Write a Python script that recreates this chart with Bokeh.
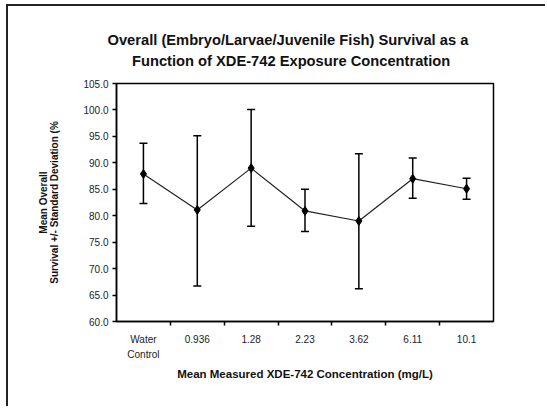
from bokeh.plotting import figure
from bokeh.models import ColumnDataSource, Whisker, FixedTicker, Title, NumeralTickFormatter
from bokeh.embed import file_html
from bokeh.resources import INLINE

categories = ["Water\nControl", "0.936", "1.28", "2.23", "3.62", "6.11", "10.1"]
mean_survival = [87.9, 81.1, 89.0, 80.9, 79.0, 87.0, 85.1]
upper_sd = [93.7, 95.1, 100.1, 85.0, 91.7, 90.9, 87.1]
lower_sd = [82.3, 66.7, 78.0, 77.0, 66.2, 83.3, 83.1]
y_ticks = [60, 65, 70, 75, 80, 85, 90, 95, 100, 105]

title_lines = ["Overall (Embryo/Larvae/Juvenile Fish) Survival as a",
               "Function of XDE-742 Exposure Concentration"]
y_label = "Mean Overall\nSurvival +/- Standard Deviation (%"
x_label = "Mean Measured XDE-742 Concentration (mg/L)"

xs = [i + 1 for i in range(len(categories))]
src = ColumnDataSource(dict(x=xs, y=mean_survival, upper=upper_sd, lower=lower_sd))

FONT = "Liberation Sans"

p = figure(width=539, height=402, output_backend="svg", toolbar_location=None,
           x_range=(0.5, len(categories) + 0.5), y_range=(60, 105),
           min_border_left=108, min_border_right=54, min_border_top=77, min_border_bottom=87,
           background_fill_color="white", border_fill_color="white")
p.margin = (6, 0, 0, 8)
p.styles = {"box-shadow": "-2px -2px 0 0 #222"}

p.grid.visible = False
p.outline_line_color = "black"
p.outline_line_width = 1.5

# x axis: labels at category centres, tick marks at boundaries
xa = p.xaxis[0]
xa.ticker = FixedTicker(ticks=xs, minor_ticks=[x + 0.5 for x in xs[:-1]])
xa.major_label_overrides = {x: c for x, c in zip(xs, categories)}
xa.major_tick_line_color = None
xa.minor_tick_in = 0
xa.minor_tick_out = 4
xa.minor_tick_line_color = "black"
xa.minor_tick_line_width = 1.5
xa.axis_line_color = "black"
xa.axis_line_width = 1.5
xa.major_label_text_font = FONT
xa.major_label_text_font_size = "10px"
xa.major_label_text_line_height = 1.4
xa.major_label_text_color = "#222"
xa.major_label_standoff = 6
xa.axis_label = x_label
xa.axis_label_text_font = FONT
xa.axis_label_text_font_style = "bold"
xa.axis_label_text_font_size = "11.5px"
xa.axis_label_text_color = "#111"
xa.axis_label_standoff = 5

ya = p.yaxis[0]
ya.ticker = FixedTicker(ticks=y_ticks)
ya.formatter = NumeralTickFormatter(format="0.0")
ya.minor_tick_line_color = None
ya.major_tick_in = 0
ya.major_tick_out = 4
ya.major_tick_line_color = "black"
ya.major_tick_line_width = 1.5
ya.axis_line_color = "black"
ya.axis_line_width = 1.5
ya.major_label_text_font = FONT
ya.major_label_text_font_size = "10px"
ya.major_label_text_color = "#222"
ya.major_label_standoff = 4
ya.axis_label = y_label
ya.axis_label_text_font = FONT
ya.axis_label_text_font_style = "bold"
ya.axis_label_text_font_size = "10px"
ya.axis_label_text_line_height = 1.0
ya.axis_label_text_color = "#111"
ya.axis_label_standoff = 20

p.line("x", "y", source=src, line_color="#222", line_width=1.2)
w = Whisker(source=src, base="x", upper="upper", lower="lower",
            line_color="black", line_width=1.5)
w.upper_head.size = 8
w.lower_head.size = 8
w.upper_head.line_width = 1.5
w.lower_head.line_width = 1.5
p.add_layout(w)
p.scatter("x", "y", source=src, marker="diamond", size=9, color="black")

# two-line title; second line indented with non-breaking spaces so both look centred
title_text = title_lines[0] + "\n" + "\u00a0" * 6 + title_lines[1]
p.add_layout(Title(text=title_text, align="left", offset=-9, standoff=24,
                   vertical_align="top", text_line_height=1.35,
                   text_font=FONT, text_font_style="bold", text_font_size="14.7px",
                   text_color="#111"), "above")

open("out.html", "w").write(file_html(p, INLINE))
